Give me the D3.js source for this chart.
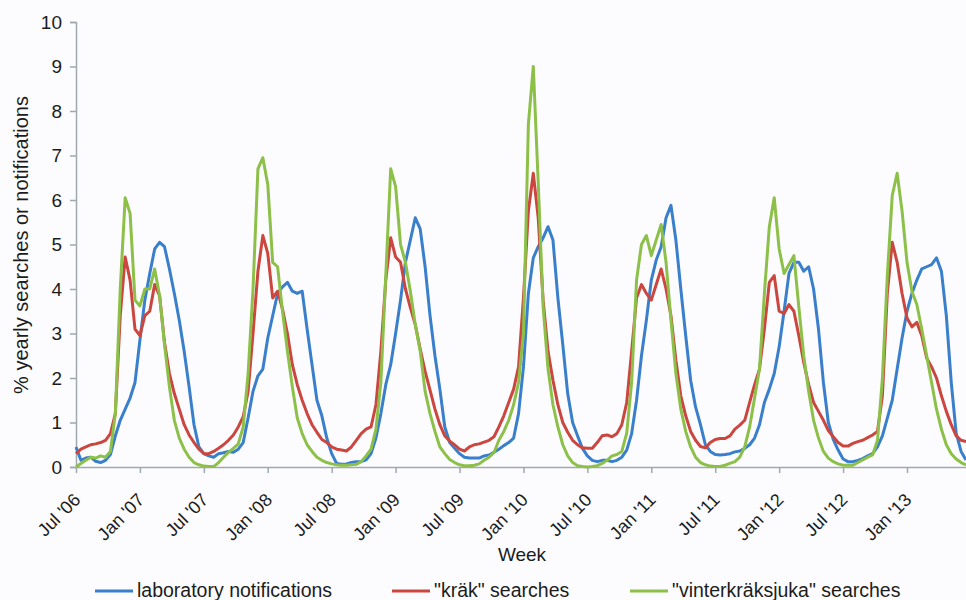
<!DOCTYPE html>
<html>
<head>
<meta charset="utf-8">
<script src="https://cdn.jsdelivr.net/npm/d3@7"></script>
<style>
  body { margin: 0; background: #fcfcfe; }
  svg { display: block; font-family: "Liberation Sans", Arial, sans-serif; }
</style>
</head>
<body>
<script>
// weekly series sampled every 2 weeks, starting Jul '06
const weekStep = 2;

const labNotifications = [
  0.45, 0.15, 0.2, 0.22, 0.13, 0.1, 0.15, 0.28, 0.7, 1.05,
  1.3, 1.55, 1.9, 2.85, 3.75, 4.35, 4.9, 5.05, 4.95, 4.45,
  3.9, 3.3, 2.6, 1.8, 0.95, 0.45, 0.3, 0.25, 0.22, 0.3,
  0.32, 0.35, 0.33, 0.4, 0.55, 1.1, 1.7, 2.05, 2.2, 2.9,
  3.4, 3.9, 4.05, 4.15, 3.95, 3.9, 3.95, 3.1, 2.3, 1.5,
  1.15, 0.65, 0.3, 0.08, 0.06, 0.07, 0.1, 0.12, 0.12, 0.16,
  0.3, 0.65, 1.2, 1.85, 2.3, 3.0, 3.75, 4.6, 5.1, 5.6,
  5.35, 4.5, 3.4, 2.5, 1.75, 0.9, 0.55, 0.42, 0.3, 0.22,
  0.2, 0.2, 0.2, 0.25, 0.27, 0.33, 0.4, 0.48, 0.55, 0.65,
  1.2, 2.25, 3.9, 4.7, 4.95, 5.15, 5.4, 5.1, 3.8, 2.75,
  1.65, 1.0, 0.7, 0.42, 0.25, 0.15, 0.12, 0.15, 0.15, 0.12,
  0.15, 0.22, 0.38, 0.75, 1.5, 2.5, 3.3, 4.2, 4.65, 4.95,
  5.6, 5.88, 5.1, 4.0, 2.95, 1.95, 1.35, 0.95, 0.5, 0.35,
  0.28, 0.27, 0.28, 0.3, 0.34, 0.36, 0.42, 0.5, 0.65, 0.95,
  1.45, 1.75, 2.1, 2.7, 3.5, 4.35, 4.6, 4.6, 4.4, 4.5,
  4.0, 3.1, 1.9, 1.0, 0.62, 0.38, 0.18, 0.12, 0.12, 0.15,
  0.19, 0.25, 0.3, 0.45, 0.7, 1.1, 1.5, 2.2, 2.9, 3.5,
  3.9, 4.2, 4.45, 4.5, 4.55, 4.7, 4.4, 3.4, 1.9, 0.76,
  0.35, 0.16
];

const krakSearches = [
  0.3, 0.4, 0.45, 0.5, 0.52, 0.55, 0.6, 0.75, 1.2, 3.4,
  4.72, 4.2, 3.1, 2.95, 3.4, 3.5, 4.1, 3.85, 2.8, 2.1,
  1.65, 1.3, 0.95, 0.72, 0.55, 0.4, 0.3, 0.3, 0.35, 0.42,
  0.5, 0.6, 0.72, 0.9, 1.13, 1.7, 3.0, 4.4, 5.2, 4.8,
  3.8, 3.95, 3.55, 3.0, 2.3, 1.85, 1.5, 1.2, 0.95, 0.78,
  0.62, 0.55, 0.45, 0.4, 0.38, 0.36, 0.45, 0.6, 0.75, 0.85,
  0.9, 1.4, 2.6, 4.2, 5.15, 4.72, 4.6, 4.0, 3.58, 3.2,
  2.65, 2.15, 1.73, 1.3, 0.95, 0.7, 0.58, 0.5, 0.4, 0.36,
  0.45, 0.5, 0.52, 0.56, 0.6, 0.68, 0.9, 1.15, 1.45, 1.75,
  2.25, 3.8, 5.75, 6.6, 5.6, 3.75, 2.6, 1.95, 1.4, 1.0,
  0.78, 0.6, 0.5, 0.43, 0.42, 0.42, 0.55, 0.7, 0.72, 0.68,
  0.75, 0.95, 1.45, 2.6, 3.8, 4.1, 3.9, 3.75, 4.1, 4.45,
  4.0, 3.4, 2.4, 1.6, 1.15, 0.8, 0.6, 0.46, 0.43, 0.55,
  0.62, 0.64, 0.64, 0.7, 0.85, 0.94, 1.05, 1.45, 1.85, 2.2,
  3.1, 4.15, 4.3, 3.5, 3.45, 3.65, 3.5, 2.95, 2.35, 1.85,
  1.45, 1.25, 1.05, 0.82, 0.68, 0.55, 0.47, 0.47, 0.53, 0.57,
  0.6, 0.66, 0.72, 0.8, 1.6, 3.9, 5.05, 4.6, 3.9, 3.35,
  3.15, 3.25, 2.95, 2.45, 2.25, 2.0, 1.6, 1.25, 0.95, 0.7,
  0.6, 0.57
];

const vinterSearches = [
  0, 0.08, 0.15, 0.22, 0.2, 0.25, 0.22, 0.35, 1.2, 4.0,
  6.05, 5.7, 3.75, 3.62, 4.0, 4.0, 4.45, 3.85, 2.75, 1.8,
  1.05, 0.65, 0.4, 0.22, 0.1, 0.05, 0.02, 0.01, 0.01, 0.1,
  0.22, 0.33, 0.42, 0.52, 0.9, 2.1, 4.0, 6.7, 6.95, 6.35,
  4.6, 4.5, 3.5, 2.6, 1.8, 1.1, 0.75, 0.5, 0.35, 0.22,
  0.15, 0.1, 0.07, 0.05, 0.04, 0.04, 0.05, 0.06, 0.12, 0.25,
  0.4, 0.85, 1.9, 4.3, 6.7, 6.3, 5.0, 4.6, 3.95, 3.2,
  2.6, 1.7, 1.2, 0.8, 0.45, 0.3, 0.17, 0.1, 0.05, 0.03,
  0.03, 0.04, 0.07, 0.15, 0.22, 0.32, 0.6, 0.8, 1.05, 1.4,
  1.9, 3.0, 7.7, 9.0, 6.4, 3.6, 2.2, 1.4, 0.9, 0.5,
  0.25, 0.1, 0.03, 0.01, 0, 0.01, 0.03, 0.08, 0.15, 0.25,
  0.28, 0.35, 0.76, 1.9, 4.2, 5.0, 5.2, 4.75, 5.1, 5.45,
  4.6, 3.3, 2.1, 1.3, 0.8, 0.45, 0.22, 0.1, 0.05, 0.02,
  0.01, 0.01, 0.04, 0.08, 0.12, 0.22, 0.45, 0.9, 1.55, 2.2,
  3.9, 5.4, 6.05, 4.9, 4.35, 4.55, 4.75, 3.6, 2.5, 1.7,
  1.05, 0.65, 0.35, 0.2, 0.12, 0.07, 0.04, 0.04, 0.04, 0.1,
  0.16, 0.22, 0.27, 0.6, 2.0, 4.3, 6.1, 6.6, 5.75, 4.6,
  3.95, 3.65, 3.1, 2.5, 1.9, 1.3, 0.85, 0.5, 0.3, 0.18,
  0.1, 0.05
];

const tickLabels = ["Jul '06", "Jan '07", "Jul '07", "Jan '08", "Jul '08", "Jan '09", "Jul '09",
  "Jan '10", "Jul '10", "Jan '11", "Jul '11", "Jan '12", "Jul '12", "Jan '13"];
const yTicks = [0, 1, 2, 3, 4, 5, 6, 7, 8, 9, 10];

const series = [
  { name: 'laboratory notifications', values: labNotifications, color: '#3a7fcb' },
  { name: '"kräk" searches', values: krakSearches, color: '#cb463f' },
  { name: '"vinterkräksjuka" searches', values: vinterSearches, color: '#8cc049' }
];

const width = 966, height = 600;
const margin = { top: 22, left: 76, bottom: 133 };
const axisColor = '#9ea8b0';
const textColor = '#1c1c1c';

const svg = d3.select('body').append('svg')
  .attr('width', width)
  .attr('height', height);

const x = d3.scaleLinear()
  .domain([0, (labNotifications.length - 1) * weekStep])
  .range([margin.left, width]);

const y = d3.scaleLinear()
  .domain([0, 10])
  .range([height - margin.bottom, margin.top]);

// y axis
const yAxis = svg.append('g')
  .attr('transform', `translate(${margin.left},0)`)
  .call(d3.axisLeft(y).tickValues(yTicks).tickSize(6).tickPadding(8));
yAxis.select('.domain').attr('stroke', axisColor).attr('stroke-width', 1.5);
yAxis.selectAll('.tick line').attr('stroke', axisColor).attr('stroke-width', 1.5);
yAxis.selectAll('.tick text')
  .attr('fill', textColor)
  .style('font-size', '19px');

// x axis, one tick every 26 weeks
const xAxis = svg.append('g')
  .attr('transform', `translate(0,${y(0)})`)
  .call(d3.axisBottom(x)
    .tickValues(tickLabels.map((d, i) => i * 26))
    .tickFormat((d, i) => tickLabels[i])
    .tickSize(6)
    .tickSizeOuter(0));
xAxis.select('.domain').attr('stroke', axisColor).attr('stroke-width', 1.5);
xAxis.selectAll('.tick line').attr('stroke', axisColor).attr('stroke-width', 1.5);
xAxis.selectAll('.tick text')
  .attr('fill', textColor)
  .style('font-size', '18px')
  .attr('text-anchor', 'end')
  .attr('y', 0)
  .attr('dy', 0)
  .attr('transform', 'translate(5,34) rotate(-45)');

// lines
const line = d3.line()
  .x((d, i) => x(i * weekStep))
  .y((d) => y(d));

svg.append('g')
  .selectAll('path')
  .data(series)
  .join('path')
    .attr('d', (d) => line(d.values))
    .attr('fill', 'none')
    .attr('stroke', (d) => d.color)
    .attr('stroke-width', 3)
    .attr('stroke-linejoin', 'round');

// axis titles
svg.append('text')
  .attr('x', 522)
  .attr('y', 561)
  .attr('text-anchor', 'middle')
  .attr('fill', textColor)
  .style('font-size', '19px')
  .text('Week');

svg.append('text')
  .attr('transform', 'translate(28,245) rotate(-90)')
  .attr('text-anchor', 'middle')
  .attr('fill', textColor)
  .style('font-size', '20px')
  .text('% yearly searches or notifications');

// legend
const legendX = [95, 392, 630];
const legend = svg.append('g')
  .selectAll('g')
  .data(series)
  .join('g')
    .attr('transform', (d, i) => `translate(${legendX[i]},591)`);

legend.append('line')
  .attr('x1', 0)
  .attr('x2', 38)
  .attr('stroke', (d) => d.color)
  .attr('stroke-width', 3);

legend.append('text')
  .attr('x', 42)
  .attr('y', 6)
  .attr('fill', textColor)
  .style('font-size', '19.5px')
  .text((d) => d.name);
</script>
</body>
</html>
